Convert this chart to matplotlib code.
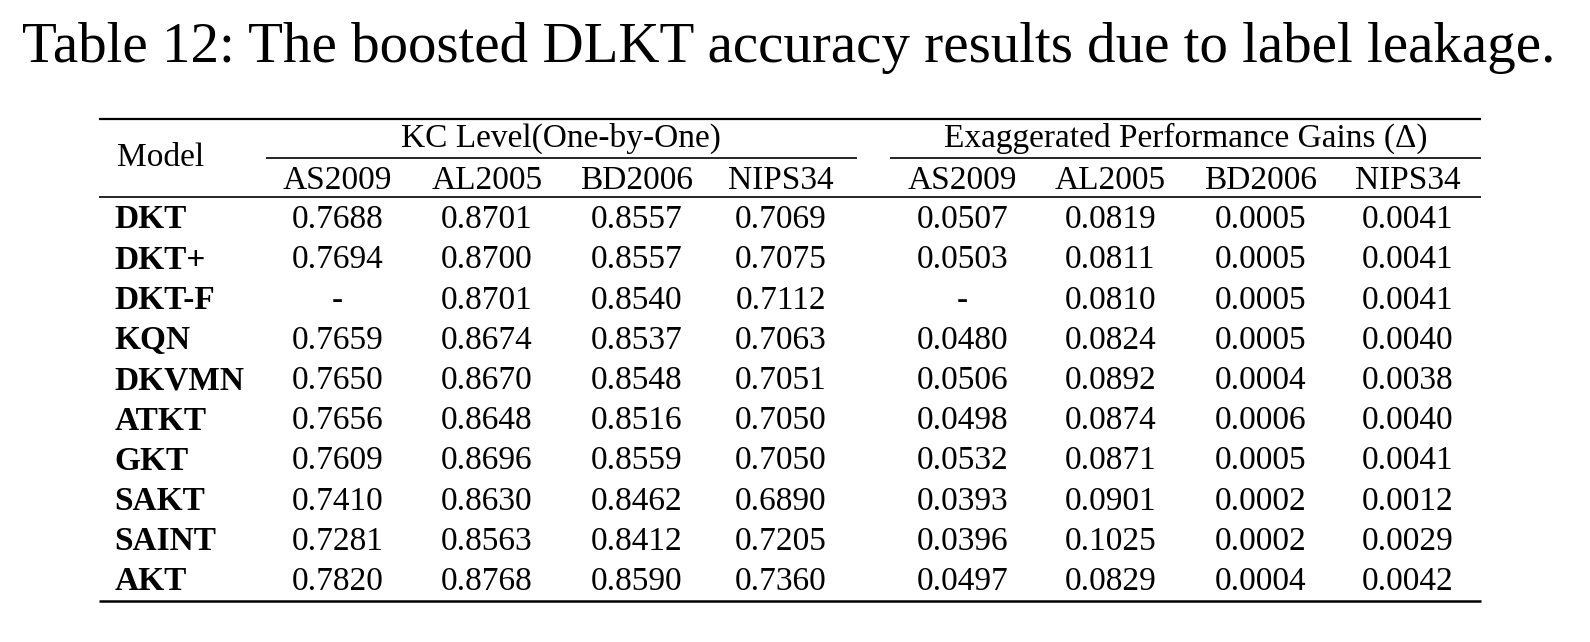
import matplotlib.pyplot as plt

plt.rcParams['font.family'] = ['Liberation Serif', 'DejaVu Serif']

title = "Table 12: The boosted DLKT accuracy results due to label leakage."
models = ['DKT', 'DKT+', 'DKT-F', 'KQN', 'DKVMN', 'ATKT', 'GKT', 'SAKT', 'SAINT', 'AKT']
datasets = ['AS2009', 'AL2005', 'BD2006', 'NIPS34']
group_names = ['KC Level(One-by-One)', 'Exaggerated Performance Gains (Δ)']

kc_level = [
    ['0.7688', '0.8701', '0.8557', '0.7069'],
    ['0.7694', '0.8700', '0.8557', '0.7075'],
    ['-',      '0.8701', '0.8540', '0.7112'],
    ['0.7659', '0.8674', '0.8537', '0.7063'],
    ['0.7650', '0.8670', '0.8548', '0.7051'],
    ['0.7656', '0.8648', '0.8516', '0.7050'],
    ['0.7609', '0.8696', '0.8559', '0.7050'],
    ['0.7410', '0.8630', '0.8462', '0.6890'],
    ['0.7281', '0.8563', '0.8412', '0.7205'],
    ['0.7820', '0.8768', '0.8590', '0.7360'],
]
gains = [
    ['0.0507', '0.0819', '0.0005', '0.0041'],
    ['0.0503', '0.0811', '0.0005', '0.0041'],
    ['-',      '0.0810', '0.0005', '0.0041'],
    ['0.0480', '0.0824', '0.0005', '0.0040'],
    ['0.0506', '0.0892', '0.0004', '0.0038'],
    ['0.0498', '0.0874', '0.0006', '0.0040'],
    ['0.0532', '0.0871', '0.0005', '0.0041'],
    ['0.0393', '0.0901', '0.0002', '0.0012'],
    ['0.0396', '0.1025', '0.0002', '0.0029'],
    ['0.0497', '0.0829', '0.0004', '0.0042'],
]

W, H = 1590, 642
fig = plt.figure(figsize=(W / 100, H / 100), dpi=100)
ax = fig.add_axes([0, 0, 1, 1])
ax.set_xlim(0, W)
ax.set_ylim(H, 0)
ax.axis('off')

fs = 24
ax.text(W / 2 - 6, 47.5, title, ha='center', va='center', fontsize=41)

# column positions
left_cols = [337.7, 486.7, 636.8, 780.8]
right_cols = [962.3, 1110.4, 1260.5, 1407.5]
x0, x1 = 98.5, 1480.5

# rules
ax.plot([x0, x1], [118.6, 118.6], color='black', lw=1.6, solid_capstyle='butt')
ax.plot([265.7, 856.9], [158, 158], color='black', lw=1.2, solid_capstyle='butt')
ax.plot([890.3, x1], [158, 158], color='black', lw=1.2, solid_capstyle='butt')
ax.plot([x0, x1], [197, 197], color='black', lw=1.2, solid_capstyle='butt')
ax.plot([x0, x1], [601.3, 601.3], color='black', lw=1.8, solid_capstyle='butt')

# header
ty = 3
ax.text(160.2, 155 + ty, 'Model', ha='center', va='center', fontsize=fs)
ax.text((265.7 + 856.9) / 2, 135 + ty, group_names[0], ha='center', va='center', fontsize=fs)
ax.text((890.3 + x1) / 2, 135 + ty, group_names[1], ha='center', va='center', fontsize=fs)
for i, d in enumerate(datasets):
    ax.text(left_cols[i], 177.5 + ty, d, ha='center', va='center', fontsize=fs)
    ax.text(right_cols[i], 177.5 + ty, d, ha='center', va='center', fontsize=fs)

# body
row_y0, row_dy = 217.0 + ty, 40.2
for r, m in enumerate(models):
    y = row_y0 + r * row_dy
    ax.text(114.6, y, m, ha='left', va='center', fontsize=fs, fontweight='bold')
    for i in range(4):
        ax.text(left_cols[i], y, kc_level[r][i], ha='center', va='center', fontsize=fs)
        ax.text(right_cols[i], y, gains[r][i], ha='center', va='center', fontsize=fs)

fig.savefig('out.png', dpi=100, facecolor='white')
